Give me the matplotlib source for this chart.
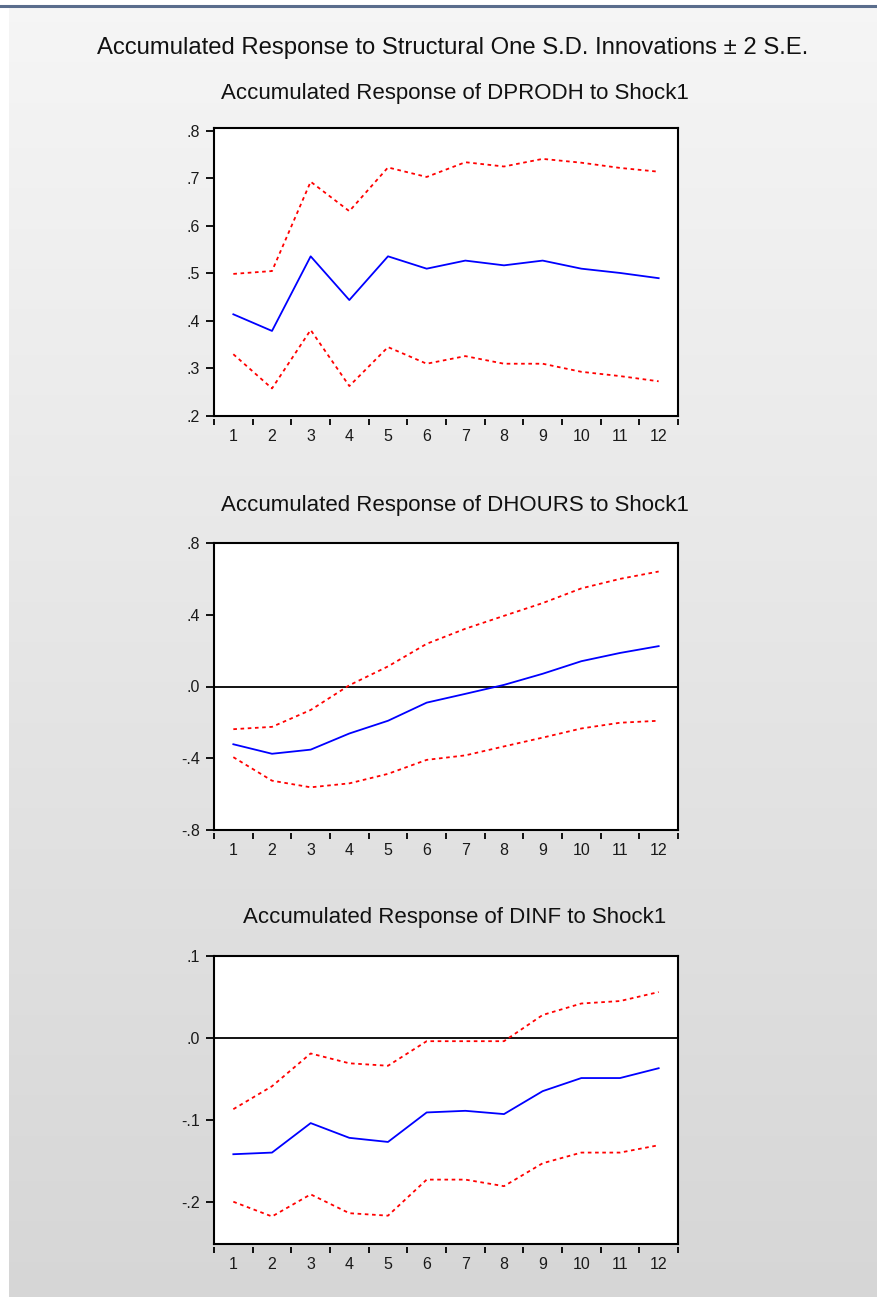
import numpy as np
import matplotlib
matplotlib.use("Agg")
import matplotlib.pyplot as plt
from matplotlib.lines import Line2D
from matplotlib.ticker import FixedLocator, FuncFormatter, NullFormatter

plt.rcParams['font.family'] = ['Liberation Sans', 'DejaVu Sans']

periods = list(range(1, 13))

# DPRODH
dprodh_resp = [0.414, 0.379, 0.536, 0.444, 0.536, 0.510, 0.527, 0.517, 0.527, 0.510, 0.501, 0.490]
dprodh_hi = [0.499, 0.505, 0.693, 0.631, 0.723, 0.703, 0.734, 0.725, 0.741, 0.733, 0.722, 0.714]
dprodh_lo = [0.330, 0.258, 0.381, 0.263, 0.345, 0.310, 0.326, 0.310, 0.310, 0.293, 0.284, 0.273]

# DHOURS
dhours_resp = [-0.322, -0.375, -0.352, -0.262, -0.191, -0.090, -0.041, 0.009, 0.071, 0.141, 0.187, 0.225]
dhours_hi = [-0.238, -0.225, -0.131, 0.007, 0.112, 0.238, 0.322, 0.394, 0.465, 0.547, 0.600, 0.641]
dhours_lo = [-0.394, -0.525, -0.562, -0.540, -0.487, -0.409, -0.384, -0.334, -0.285, -0.234, -0.202, -0.191]

# DINF
dinf_resp = [-0.142, -0.140, -0.104, -0.122, -0.127, -0.091, -0.089, -0.093, -0.065, -0.049, -0.049, -0.037]
dinf_hi = [-0.087, -0.059, -0.019, -0.031, -0.034, -0.004, -0.004, -0.004, 0.028, 0.042, 0.045, 0.056]
dinf_lo = [-0.200, -0.218, -0.191, -0.214, -0.217, -0.173, -0.173, -0.181, -0.153, -0.140, -0.140, -0.131]

W, H = 878, 1297
fig = plt.figure(figsize=(W / 100, H / 100), dpi=100)
fig.patch.set_facecolor('white')

# gray gradient background panel
bg = fig.add_axes([9 / W, 0, 1 - 9 / W, 1 - 7 / H], zorder=-10)
grad = np.linspace(0.962, 0.84, 256).reshape(-1, 1)
bg.imshow(np.dstack([grad, grad, grad]), aspect='auto', extent=[0, 1, 0, 1])
bg.set_axis_off()
fig.add_artist(Line2D([0, 1], [1 - 6 / H, 1 - 6 / H], transform=fig.transFigure,
                      color='#5a6d8c', lw=2.2))

fig.text(452.5 / W, 1 - 48 / H, 'Accumulated Response to Structural One S.D. Innovations \u00b1 2 S.E.',
         ha='center', va='center', fontsize=17.2, color='#111111')

panels = [
    ('Accumulated Response of DPRODH to Shock1', dprodh_resp, dprodh_hi, dprodh_lo,
     128, 416, 93, (0.2, 0.806), [0.2, 0.3, 0.4, 0.5, 0.6, 0.7, 0.8], False),
    ('Accumulated Response of DHOURS to Shock1', dhours_resp, dhours_hi, dhours_lo,
     543, 830, 505, (-0.8, 0.8), [-0.8, -0.4, 0.0, 0.4, 0.8], True),
    ('Accumulated Response of DINF to Shock1', dinf_resp, dinf_hi, dinf_lo,
     956, 1244, 918, (-0.2516, 0.1), [-0.2, -0.1, 0.0, 0.1], True),
]


def fmt(v, pos):
    s = '%.1f' % v
    if s == '-0.0':
        s = '0.0'
    return s.replace('0.', '.')


for title, resp, hi, lo, top, bottom, title_y, ylim, yticks, zero in panels:
    ax = fig.add_axes([214 / W, 1 - bottom / H, 464 / W, (bottom - top) / H])
    ax.set_facecolor('white')
    if zero:
        ax.axhline(0, color='black', lw=1.3, zorder=1)
    ax.plot(periods, hi, color='#ff0000', lw=1.3, ls=(0, (2, 2)), zorder=2)
    ax.plot(periods, lo, color='#ff0000', lw=1.3, ls=(0, (2, 2)), zorder=2)
    ax.plot(periods, resp, color='#0000ff', lw=1.3, zorder=3)
    ax.set_xlim(0.5, 12.5)
    ax.set_ylim(*ylim)
    for sp in ax.spines.values():
        sp.set_linewidth(1.5)
        sp.set_color('black')
    ax.set_yticks(yticks)
    ax.yaxis.set_major_formatter(FuncFormatter(fmt))
    ax.tick_params(axis='y', direction='out', length=6, width=1.3, pad=4,
                   labelsize=11.5, labelcolor='#1a1a1a')
    ax.set_xticks([])
    fig.text(455 / W, 1 - title_y / H, title, ha='center', va='center',
             fontsize=16, color='#111111')

    sec = ax.secondary_xaxis(-3 / (bottom - top))
    sec.spines['bottom'].set_visible(False)
    sec.xaxis.set_major_locator(FixedLocator(np.arange(0.5, 13, 1)))
    sec.xaxis.set_major_formatter(NullFormatter())
    sec.xaxis.set_minor_locator(FixedLocator(periods))
    sec.xaxis.set_minor_formatter(FuncFormatter(lambda v, p: '%d' % v))
    sec.tick_params(which='major', direction='out', length=4, width=1.3)
    sec.tick_params(which='minor', length=0, pad=7, labelsize=11.5, labelcolor='#1a1a1a')

fig.savefig('out.png', dpi=100)
